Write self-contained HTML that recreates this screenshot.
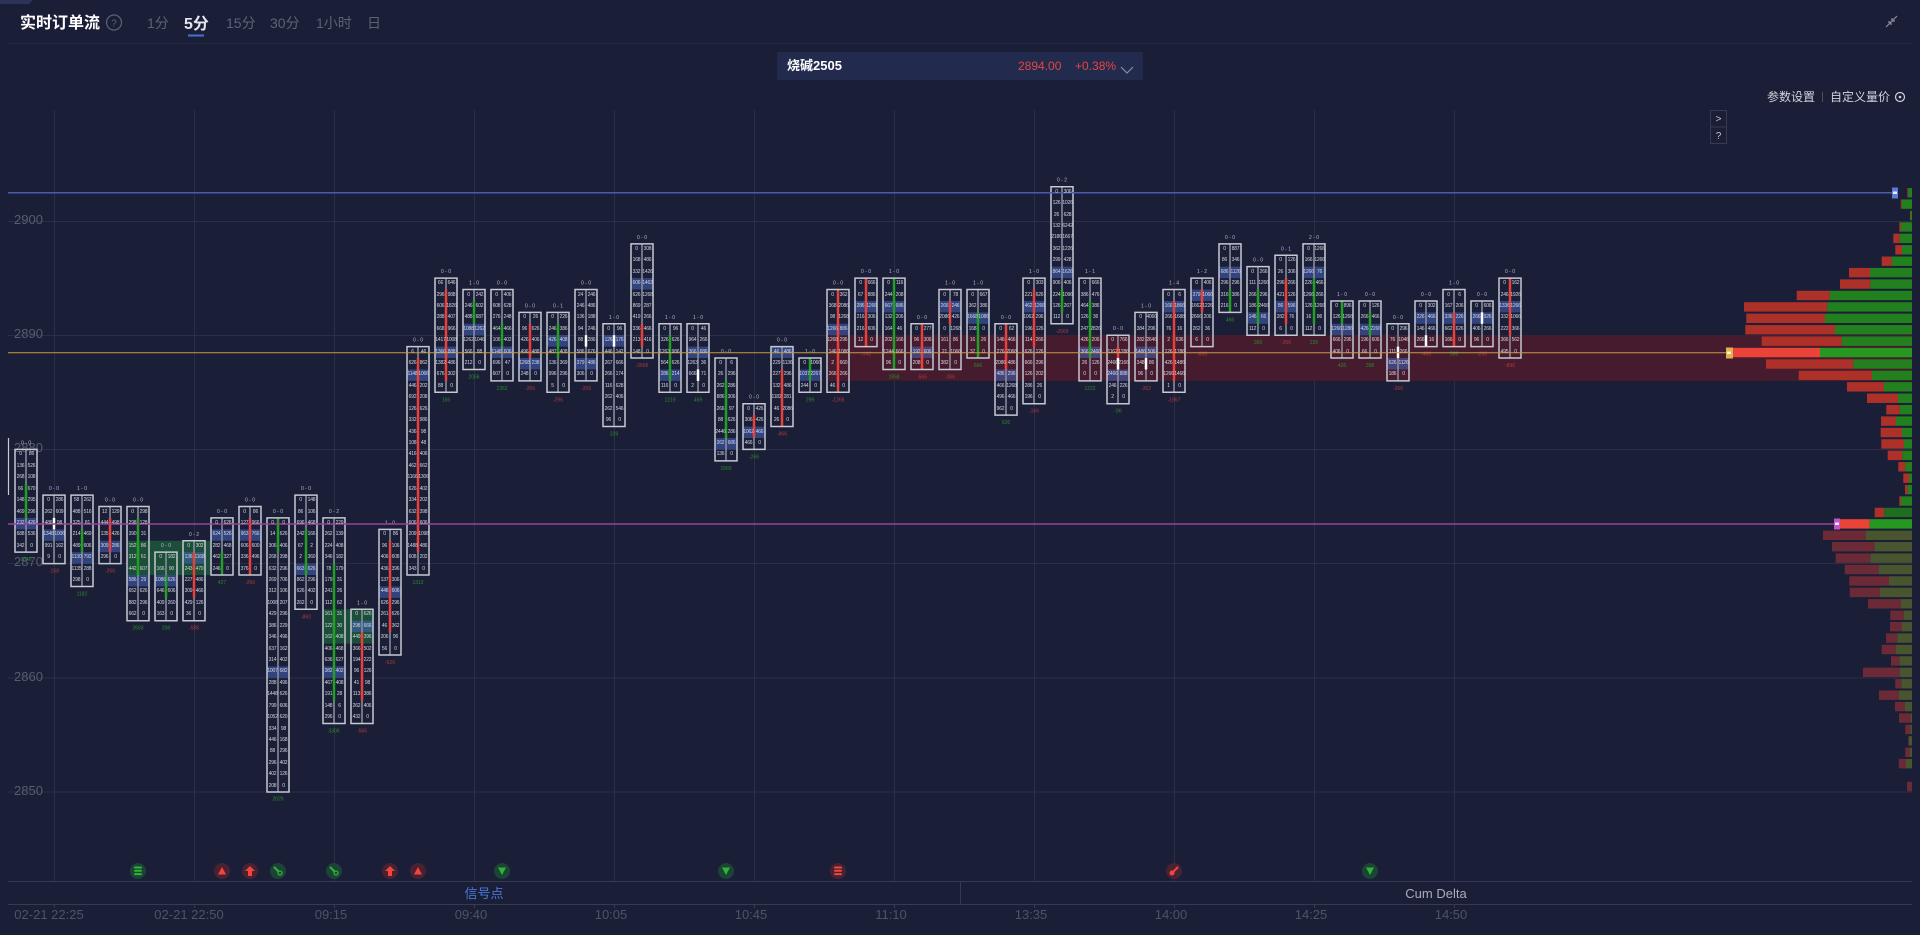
<!DOCTYPE html>
<html><head><meta charset="utf-8">
<style>
html,body{margin:0;padding:0;background:#1b1e37;}
#w{position:relative;width:1920px;height:935px;overflow:hidden;background:#1b1e37;font-family:"Liberation Sans","Noto Sans CJK SC",sans-serif;}
svg{position:absolute;left:0;top:0;}
.c{position:absolute;width:22px;display:flex;font-size:5px;line-height:11.42px;color:#d3d5de;white-space:nowrap;letter-spacing:-0.2px;}
.c i{font-style:normal;width:11px;text-align:center;overflow:visible;}
.p{fill:rgba(70,100,190,.55)}
.d{fill:#8d909f}
.r{fill:#e8413a}
.g{fill:#22a024}
.w{fill:#ffffff}
.x{fill:none;stroke:#c6c8d2;stroke-width:1.5px;vector-effect:non-scaling-stroke}
.ta{font-size:5px;fill:#b6b9c6;text-anchor:middle;font-family:"Liberation Sans",sans-serif}
.tr{font-size:5px;fill:#b23a3a;text-anchor:middle;font-family:"Liberation Sans",sans-serif}
.tg{font-size:5px;fill:#2a8c2a;text-anchor:middle;font-family:"Liberation Sans",sans-serif}
</style></head>
<body><div id="w">
<svg width="1920" height="935" viewBox="0 0 1920 935" xmlns="http://www.w3.org/2000/svg">
<!-- header -->
<polygon points="0,0 33,0 29,4 0,4" fill="#2b3356"/>
<text x="20" y="28" font-size="16" font-weight="bold" fill="#ffffff" font-family="Liberation Sans,Noto Sans CJK SC,sans-serif">实时订单流</text>
<circle cx="114" cy="22.5" r="7.5" fill="none" stroke="#5d6278" stroke-width="1.2"/>
<text x="114" y="26.5" font-size="10" fill="#5d6278" text-anchor="middle" font-family="Liberation Sans,sans-serif">?</text>
<g font-size="14" fill="#5d6278" font-family="Liberation Sans,Noto Sans CJK SC,sans-serif">
<text x="147" y="28">1分</text>
<text x="226" y="28">15分</text>
<text x="270" y="28">30分</text>
<text x="316" y="28">1小时</text>
<text x="367" y="28">日</text>
</g>
<text x="184" y="29" font-size="16" font-weight="bold" fill="#e6e7ee" font-family="Liberation Sans,Noto Sans CJK SC,sans-serif">5分</text>
<rect x="188" y="34.5" width="16" height="2" fill="#4a70d8"/>
<path d="M1886 27 L1891 22 M1888 22 L1891 22 L1891 25 M1897 16 L1892 21 M1892 18 L1892 21 L1895 21" stroke="#8a8ea0" stroke-width="1.2" fill="none"/>
<line x1="8" y1="43.5" x2="1912" y2="43.5" stroke="#252944" stroke-width="1"/>
<!-- instrument box -->
<rect x="777" y="52" width="366" height="28" rx="2" fill="#222b4d"/>
<text x="787" y="70" font-size="13" font-weight="bold" fill="#ffffff" font-family="Liberation Sans,Noto Sans CJK SC,sans-serif">烧碱2505</text>
<text x="1018" y="70" font-size="12" fill="#e64545" font-family="Liberation Sans,sans-serif">2894.00</text>
<text x="1075" y="70" font-size="12" fill="#e64545" font-family="Liberation Sans,sans-serif">+0.38%</text>
<polyline points="1121,67 1127,73 1133,67" fill="none" stroke="#8a8ea2" stroke-width="1.2"/>
<!-- settings -->
<g font-size="12" fill="#d2d4dc" font-family="Liberation Sans,Noto Sans CJK SC,sans-serif">
<text x="1767" y="101">参数设置</text>
<text x="1830" y="101">自定义量价</text>
</g>
<line x1="1822.5" y1="92" x2="1822.5" y2="102" stroke="#4a4e63"/>
<circle cx="1900" cy="97" r="4.5" fill="none" stroke="#cfd2da" stroke-width="1.2"/>
<circle cx="1900" cy="97" r="1.3" fill="#cfd2da"/>
<rect x="1710.5" y="110.5" width="16" height="33" fill="none" stroke="#363a52"/>
<line x1="1710.5" y1="127" x2="1726.5" y2="127" stroke="#363a52"/>
<text x="1718.5" y="122" font-size="10" fill="#c0c3cf" text-anchor="middle" font-family="Liberation Sans,sans-serif">&gt;</text>
<text x="1718.5" y="139" font-size="10" fill="#c0c3cf" text-anchor="middle" font-family="Liberation Sans,sans-serif">?</text>

<!-- grid -->
<g stroke="#2a2e47" stroke-width="1">
<line x1="54.5" y1="110" x2="54.5" y2="881"/><line x1="194.5" y1="110" x2="194.5" y2="881"/><line x1="334.5" y1="110" x2="334.5" y2="881"/><line x1="474.5" y1="110" x2="474.5" y2="881"/><line x1="614.5" y1="110" x2="614.5" y2="881"/><line x1="754.5" y1="110" x2="754.5" y2="881"/><line x1="894.5" y1="110" x2="894.5" y2="881"/><line x1="1034.5" y1="110" x2="1034.5" y2="881"/><line x1="1174.5" y1="110" x2="1174.5" y2="881"/><line x1="1314.5" y1="110" x2="1314.5" y2="881"/><line x1="1454.5" y1="110" x2="1454.5" y2="881"/>
<line x1="8" y1="221.5" x2="1912" y2="221.5"/><line x1="8" y1="335.5" x2="1912" y2="335.5"/><line x1="8" y1="449.5" x2="1912" y2="449.5"/><line x1="8" y1="563.5" x2="1912" y2="563.5"/><line x1="8" y1="678" x2="1912" y2="678"/><line x1="8" y1="792" x2="1912" y2="792"/>
</g>
<g font-size="13" fill="#575c72" font-family="Liberation Sans,sans-serif">
<text x="14" y="224">2900</text><text x="14" y="338">2890</text><text x="14" y="452">2880</text><text x="14" y="566">2870</text><text x="14" y="681">2860</text><text x="14" y="795">2850</text>
</g>
<line x1="8.5" y1="438" x2="8.5" y2="495" stroke="#c8cad4" stroke-width="1.2"/>

<!-- zones -->
<rect x="826.7" y="335.2" width="1085.3" height="45.7" fill="#461b2e"/>
<rect x="126.7" y="540.8" width="83.3" height="34.3" fill="#1c4f39"/>
<rect x="322.3" y="609.3" width="51.4" height="34.3" fill="#1c4f39"/>

<!-- candles (price space) -->
<g transform="matrix(1 0 0 -11.42 0 33339)">
<g transform="translate(15 0)"><rect class="p" x="0" y="2873" width="22" height="1"/><rect class="d" x="10.25" y="2871" width="1.5" height="9"/><rect class="g" x="9.75" y="2874" width="2.5" height="3"/><rect class="x" x="0" y="2871" width="22" height="9"/></g>
<g transform="translate(43 0)"><rect class="p" x="0" y="2872" width="22" height="1"/><rect class="d" x="10.25" y="2870" width="1.5" height="6"/><rect class="w" x="9.75" y="2873" width="2.5" height="1"/><rect class="x" x="0" y="2870" width="22" height="6"/></g>
<g transform="translate(71 0)"><rect class="p" x="0" y="2870" width="22" height="1"/><rect class="d" x="10.25" y="2868" width="1.5" height="8"/><rect class="g" x="9.75" y="2871" width="2.5" height="2"/><rect class="x" x="0" y="2868" width="22" height="8"/></g>
<g transform="translate(99 0)"><rect class="p" x="0" y="2871" width="22" height="1"/><rect class="d" x="10.25" y="2870" width="1.5" height="5"/><rect class="r" x="9.75" y="2871" width="2.5" height="3"/><rect class="x" x="0" y="2870" width="22" height="5"/></g>
<g transform="translate(127 0)"><rect class="p" x="0" y="2868" width="22" height="1"/><rect class="d" x="10.25" y="2865" width="1.5" height="10"/><rect class="g" x="9.75" y="2869" width="2.5" height="5"/><rect class="x" x="0" y="2865" width="22" height="10"/></g>
<g transform="translate(155 0)"><rect class="p" x="0" y="2868" width="22" height="1"/><rect class="d" x="10.25" y="2865" width="1.5" height="6"/><rect class="g" x="9.75" y="2867" width="2.5" height="2"/><rect class="x" x="0" y="2865" width="22" height="6"/></g>
<g transform="translate(183 0)"><rect class="p" x="0" y="2870" width="22" height="1"/><rect class="d" x="10.25" y="2865" width="1.5" height="7"/><rect class="r" x="9.75" y="2867" width="2.5" height="4"/><rect class="x" x="0" y="2865" width="22" height="7"/></g>
<g transform="translate(211 0)"><rect class="p" x="0" y="2872" width="22" height="1"/><rect class="d" x="10.25" y="2869" width="1.5" height="5"/><rect class="g" x="9.75" y="2869" width="2.5" height="2"/><rect class="x" x="0" y="2869" width="22" height="5"/></g>
<g transform="translate(239 0)"><rect class="p" x="0" y="2872" width="22" height="1"/><rect class="d" x="10.25" y="2869" width="1.5" height="6"/><rect class="r" x="9.75" y="2869" width="2.5" height="5"/><rect class="x" x="0" y="2869" width="22" height="6"/></g>
<g transform="translate(267 0)"><rect class="p" x="0" y="2860" width="22" height="1"/><rect class="d" x="10.25" y="2850" width="1.5" height="24"/><rect class="g" x="9.75" y="2871" width="2.5" height="3"/><rect class="x" x="0" y="2850" width="22" height="24"/></g>
<g transform="translate(295 0)"><rect class="p" x="0" y="2869" width="22" height="1"/><rect class="d" x="10.25" y="2866" width="1.5" height="10"/><rect class="g" x="9.75" y="2869" width="2.5" height="4"/><rect class="x" x="0" y="2866" width="22" height="10"/></g>
<g transform="translate(323 0)"><rect class="p" x="0" y="2860" width="22" height="1"/><rect class="d" x="10.25" y="2856" width="1.5" height="18"/><rect class="g" x="9.75" y="2858" width="2.5" height="12"/><rect class="x" x="0" y="2856" width="22" height="18"/></g>
<g transform="translate(351 0)"><rect class="p" x="0" y="2864" width="22" height="1"/><rect class="d" x="10.25" y="2856" width="1.5" height="10"/><rect class="r" x="9.75" y="2858" width="2.5" height="6"/><rect class="x" x="0" y="2856" width="22" height="10"/></g>
<g transform="translate(379 0)"><rect class="p" x="0" y="2867" width="22" height="1"/><rect class="d" x="10.25" y="2862" width="1.5" height="11"/><rect class="r" x="9.75" y="2864" width="2.5" height="8"/><rect class="x" x="0" y="2862" width="22" height="11"/></g>
<g transform="translate(407 0)"><rect class="p" x="0" y="2886" width="22" height="1"/><rect class="d" x="10.25" y="2869" width="1.5" height="20"/><rect class="r" x="9.75" y="2871" width="2.5" height="17"/><rect class="x" x="0" y="2869" width="22" height="20"/></g>
<g transform="translate(435 0)"><rect class="p" x="0" y="2888" width="22" height="1"/><rect class="d" x="10.25" y="2885" width="1.5" height="10"/><rect class="r" x="9.75" y="2886" width="2.5" height="8"/><rect class="x" x="0" y="2885" width="22" height="10"/></g>
<g transform="translate(463 0)"><rect class="p" x="0" y="2890" width="22" height="1"/><rect class="d" x="10.25" y="2887" width="1.5" height="7"/><rect class="g" x="9.75" y="2891" width="2.5" height="2"/><rect class="x" x="0" y="2887" width="22" height="7"/></g>
<g transform="translate(491 0)"><rect class="p" x="0" y="2888" width="22" height="1"/><rect class="d" x="10.25" y="2886" width="1.5" height="8"/><rect class="g" x="9.75" y="2889" width="2.5" height="2"/><rect class="x" x="0" y="2886" width="22" height="8"/></g>
<g transform="translate(519 0)"><rect class="p" x="0" y="2887" width="22" height="1"/><rect class="d" x="10.25" y="2886" width="1.5" height="6"/><rect class="r" x="9.75" y="2888" width="2.5" height="3"/><rect class="x" x="0" y="2886" width="22" height="6"/></g>
<g transform="translate(547 0)"><rect class="p" x="0" y="2889" width="22" height="1"/><rect class="d" x="10.25" y="2885" width="1.5" height="7"/><rect class="g" x="9.75" y="2888" width="2.5" height="3"/><rect class="x" x="0" y="2885" width="22" height="7"/></g>
<g transform="translate(575 0)"><rect class="p" x="0" y="2887" width="22" height="1"/><rect class="d" x="10.25" y="2886" width="1.5" height="8"/><rect class="w" x="9.75" y="2889" width="2.5" height="1"/><rect class="x" x="0" y="2886" width="22" height="8"/></g>
<g transform="translate(603 0)"><rect class="p" x="0" y="2889" width="22" height="1"/><rect class="d" x="10.25" y="2882" width="1.5" height="9"/><rect class="w" x="9.75" y="2889" width="2.5" height="1"/><rect class="x" x="0" y="2882" width="22" height="9"/></g>
<g transform="translate(631 0)"><rect class="p" x="0" y="2894" width="22" height="1"/><rect class="d" x="10.25" y="2888" width="1.5" height="10"/><rect class="r" x="9.75" y="2889" width="2.5" height="2"/><rect class="x" x="0" y="2888" width="22" height="10"/></g>
<g transform="translate(659 0)"><rect class="p" x="0" y="2886" width="22" height="1"/><rect class="d" x="10.25" y="2885" width="1.5" height="6"/><rect class="g" x="9.75" y="2886" width="2.5" height="4"/><rect class="x" x="0" y="2885" width="22" height="6"/></g>
<g transform="translate(687 0)"><rect class="p" x="0" y="2888" width="22" height="1"/><rect class="d" x="10.25" y="2885" width="1.5" height="6"/><rect class="w" x="9.75" y="2886" width="2.5" height="1"/><rect class="x" x="0" y="2885" width="22" height="6"/></g>
<g transform="translate(715 0)"><rect class="p" x="0" y="2880" width="22" height="1"/><rect class="d" x="10.25" y="2879" width="1.5" height="9"/><rect class="g" x="9.75" y="2881" width="2.5" height="5"/><rect class="x" x="0" y="2879" width="22" height="9"/></g>
<g transform="translate(743 0)"><rect class="p" x="0" y="2881" width="22" height="1"/><rect class="d" x="10.25" y="2880" width="1.5" height="4"/><rect class="r" x="9.75" y="2881" width="2.5" height="2"/><rect class="x" x="0" y="2880" width="22" height="4"/></g>
<g transform="translate(771 0)"><rect class="p" x="0" y="2888" width="22" height="1"/><rect class="d" x="10.25" y="2882" width="1.5" height="7"/><rect class="r" x="9.75" y="2882" width="2.5" height="5"/><rect class="x" x="0" y="2882" width="22" height="7"/></g>
<g transform="translate(799 0)"><rect class="p" x="0" y="2886" width="22" height="1"/><rect class="d" x="10.25" y="2885" width="1.5" height="3"/><rect class="g" x="9.75" y="2886" width="2.5" height="2"/><rect class="x" x="0" y="2885" width="22" height="3"/></g>
<g transform="translate(827 0)"><rect class="p" x="0" y="2890" width="22" height="1"/><rect class="d" x="10.25" y="2885" width="1.5" height="9"/><rect class="r" x="9.75" y="2885" width="2.5" height="9"/><rect class="x" x="0" y="2885" width="22" height="9"/></g>
<g transform="translate(855 0)"><rect class="p" x="0" y="2892" width="22" height="1"/><rect class="d" x="10.25" y="2889" width="1.5" height="6"/><rect class="r" x="9.75" y="2889" width="2.5" height="6"/><rect class="x" x="0" y="2889" width="22" height="6"/></g>
<g transform="translate(883 0)"><rect class="p" x="0" y="2892" width="22" height="1"/><rect class="d" x="10.25" y="2887" width="1.5" height="8"/><rect class="g" x="9.75" y="2887" width="2.5" height="8"/><rect class="x" x="0" y="2887" width="22" height="8"/></g>
<g transform="translate(911 0)"><rect class="p" x="0" y="2888" width="22" height="1"/><rect class="d" x="10.25" y="2887" width="1.5" height="4"/><rect class="r" x="9.75" y="2887" width="2.5" height="4"/><rect class="x" x="0" y="2887" width="22" height="4"/></g>
<g transform="translate(939 0)"><rect class="p" x="0" y="2892" width="22" height="1"/><rect class="d" x="10.25" y="2887" width="1.5" height="7"/><rect class="r" x="9.75" y="2891" width="2.5" height="2"/><rect class="x" x="0" y="2887" width="22" height="7"/></g>
<g transform="translate(967 0)"><rect class="p" x="0" y="2891" width="22" height="1"/><rect class="d" x="10.25" y="2888" width="1.5" height="6"/><rect class="g" x="9.75" y="2888" width="2.5" height="4"/><rect class="x" x="0" y="2888" width="22" height="6"/></g>
<g transform="translate(995 0)"><rect class="p" x="0" y="2886" width="22" height="1"/><rect class="d" x="10.25" y="2883" width="1.5" height="8"/><rect class="r" x="9.75" y="2887" width="2.5" height="4"/><rect class="x" x="0" y="2883" width="22" height="8"/></g>
<g transform="translate(1023 0)"><rect class="p" x="0" y="2892" width="22" height="1"/><rect class="d" x="10.25" y="2884" width="1.5" height="11"/><rect class="r" x="9.75" y="2889" width="2.5" height="5"/><rect class="x" x="0" y="2884" width="22" height="11"/></g>
<g transform="translate(1051 0)"><rect class="p" x="0" y="2895" width="22" height="1"/><rect class="d" x="10.25" y="2891" width="1.5" height="12"/><rect class="g" x="9.75" y="2892" width="2.5" height="2"/><rect class="x" x="0" y="2891" width="22" height="12"/></g>
<g transform="translate(1079 0)"><rect class="p" x="0" y="2888" width="22" height="1"/><rect class="d" x="10.25" y="2886" width="1.5" height="9"/><rect class="g" x="9.75" y="2888" width="2.5" height="5"/><rect class="x" x="0" y="2886" width="22" height="9"/></g>
<g transform="translate(1107 0)"><rect class="p" x="0" y="2886" width="22" height="1"/><rect class="d" x="10.25" y="2884" width="1.5" height="6"/><rect class="r" x="9.75" y="2888" width="2.5" height="1"/><rect class="w" x="9.75" y="2887" width="2.5" height="1"/><rect class="x" x="0" y="2884" width="22" height="6"/></g>
<g transform="translate(1135 0)"><rect class="p" x="0" y="2888" width="22" height="1"/><rect class="d" x="10.25" y="2886" width="1.5" height="6"/><rect class="w" x="9.75" y="2887" width="2.5" height="1"/><rect class="x" x="0" y="2886" width="22" height="6"/></g>
<g transform="translate(1163 0)"><rect class="p" x="0" y="2892" width="22" height="1"/><rect class="d" x="10.25" y="2885" width="1.5" height="9"/><rect class="r" x="9.75" y="2886" width="2.5" height="7"/><rect class="x" x="0" y="2885" width="22" height="9"/></g>
<g transform="translate(1191 0)"><rect class="p" x="0" y="2893" width="22" height="1"/><rect class="d" x="10.25" y="2889" width="1.5" height="6"/><rect class="r" x="9.75" y="2892" width="2.5" height="2"/><rect class="x" x="0" y="2889" width="22" height="6"/></g>
<g transform="translate(1219 0)"><rect class="p" x="0" y="2895" width="22" height="1"/><rect class="d" x="10.25" y="2892" width="1.5" height="6"/><rect class="g" x="9.75" y="2892" width="2.5" height="2"/><rect class="x" x="0" y="2892" width="22" height="6"/></g>
<g transform="translate(1247 0)"><rect class="p" x="0" y="2891" width="22" height="1"/><rect class="d" x="10.25" y="2890" width="1.5" height="6"/><rect class="g" x="9.75" y="2891" width="2.5" height="3"/><rect class="x" x="0" y="2890" width="22" height="6"/></g>
<g transform="translate(1275 0)"><rect class="p" x="0" y="2892" width="22" height="1"/><rect class="d" x="10.25" y="2890" width="1.5" height="7"/><rect class="r" x="9.75" y="2891" width="2.5" height="4"/><rect class="x" x="0" y="2890" width="22" height="7"/></g>
<g transform="translate(1303 0)"><rect class="p" x="0" y="2895" width="22" height="1"/><rect class="d" x="10.25" y="2890" width="1.5" height="8"/><rect class="g" x="9.75" y="2891" width="2.5" height="4"/><rect class="x" x="0" y="2890" width="22" height="8"/></g>
<g transform="translate(1331 0)"><rect class="p" x="0" y="2890" width="22" height="1"/><rect class="d" x="10.25" y="2888" width="1.5" height="5"/><rect class="g" x="9.75" y="2891" width="2.5" height="2"/><rect class="x" x="0" y="2888" width="22" height="5"/></g>
<g transform="translate(1359 0)"><rect class="p" x="0" y="2890" width="22" height="1"/><rect class="d" x="10.25" y="2888" width="1.5" height="5"/><rect class="g" x="9.75" y="2890" width="2.5" height="2"/><rect class="x" x="0" y="2888" width="22" height="5"/></g>
<g transform="translate(1387 0)"><rect class="p" x="0" y="2887" width="22" height="1"/><rect class="d" x="10.25" y="2886" width="1.5" height="5"/><rect class="w" x="9.75" y="2888" width="2.5" height="1"/><rect class="x" x="0" y="2886" width="22" height="5"/></g>
<g transform="translate(1415 0)"><rect class="p" x="0" y="2891" width="22" height="1"/><rect class="d" x="10.25" y="2889" width="1.5" height="4"/><rect class="w" x="9.75" y="2889" width="2.5" height="1"/><rect class="x" x="0" y="2889" width="22" height="4"/></g>
<g transform="translate(1443 0)"><rect class="p" x="0" y="2891" width="22" height="1"/><rect class="d" x="10.25" y="2889" width="1.5" height="5"/><rect class="r" x="9.75" y="2889" width="2.5" height="3"/><rect class="x" x="0" y="2889" width="22" height="5"/></g>
<g transform="translate(1471 0)"><rect class="p" x="0" y="2891" width="22" height="1"/><rect class="d" x="10.25" y="2889" width="1.5" height="4"/><rect class="w" x="9.75" y="2891" width="2.5" height="1"/><rect class="x" x="0" y="2889" width="22" height="4"/></g>
<g transform="translate(1499 0)"><rect class="p" x="0" y="2892" width="22" height="1"/><rect class="d" x="10.25" y="2888" width="1.5" height="7"/><rect class="r" x="9.75" y="2890" width="2.5" height="5"/><rect class="x" x="0" y="2888" width="22" height="7"/></g>
</g>

<!-- candle labels above -->
<g class="ta">
<text class="ta" x="26" y="444.4">0 - 0</text><text class="ta" x="54" y="490.1">0 - 0</text><text class="ta" x="82" y="490.1">1 - 0</text><text class="ta" x="110" y="501.5">0 - 0</text><text class="ta" x="138" y="501.5">0 - 0</text><text class="ta" x="166" y="547.2">0 - 0</text><text class="ta" x="194" y="535.8">0 - 2</text><text class="ta" x="222" y="512.9">0 - 0</text><text class="ta" x="250" y="501.5">0 - 0</text><text class="ta" x="278" y="512.9">0 - 0</text><text class="ta" x="306" y="490.1">0 - 0</text><text class="ta" x="334" y="512.9">0 - 2</text><text class="ta" x="362" y="604.3">1 - 0</text><text class="ta" x="390" y="524.3">1 - 0</text><text class="ta" x="418" y="341.6">0 - 0</text><text class="ta" x="446" y="273.1">0 - 0</text><text class="ta" x="474" y="284.5">1 - 0</text><text class="ta" x="502" y="284.5">0 - 0</text><text class="ta" x="530" y="307.4">0 - 0</text><text class="ta" x="558" y="307.4">0 - 1</text><text class="ta" x="586" y="284.5">0 - 0</text><text class="ta" x="614" y="318.8">1 - 0</text><text class="ta" x="642" y="238.8">0 - 0</text><text class="ta" x="670" y="318.8">1 - 0</text><text class="ta" x="698" y="318.8">1 - 0</text><text class="ta" x="726" y="353.0">0 - 0</text><text class="ta" x="754" y="398.7">0 - 0</text><text class="ta" x="782" y="341.6">0 - 0</text><text class="ta" x="810" y="353.0">1 - 0</text><text class="ta" x="838" y="284.5">0 - 0</text><text class="ta" x="866" y="273.1">0 - 0</text><text class="ta" x="894" y="273.1">1 - 0</text><text class="ta" x="922" y="318.8">0 - 0</text><text class="ta" x="950" y="284.5">1 - 0</text><text class="ta" x="978" y="284.5">1 - 0</text><text class="ta" x="1006" y="318.8">0 - 0</text><text class="ta" x="1034" y="273.1">1 - 0</text><text class="ta" x="1062" y="181.7">0 - 2</text><text class="ta" x="1090" y="273.1">1 - 1</text><text class="ta" x="1118" y="330.2">0 - 0</text><text class="ta" x="1146" y="307.4">1 - 0</text><text class="ta" x="1174" y="284.5">1 - 4</text><text class="ta" x="1202" y="273.1">1 - 2</text><text class="ta" x="1230" y="238.8">0 - 0</text><text class="ta" x="1258" y="261.7">0 - 0</text><text class="ta" x="1286" y="250.3">0 - 1</text><text class="ta" x="1314" y="238.8">2 - 0</text><text class="ta" x="1342" y="295.9">1 - 0</text><text class="ta" x="1370" y="295.9">0 - 0</text><text class="ta" x="1398" y="318.8">0 - 0</text><text class="ta" x="1426" y="295.9">0 - 0</text><text class="ta" x="1454" y="284.5">1 - 0</text><text class="ta" x="1482" y="295.9">0 - 0</text><text class="ta" x="1510" y="273.1">0 - 0</text>
</g>
<!-- candle labels below -->
<text class="tg" x="26" y="561.2">1846</text><text class="tr" x="54" y="572.6">-158</text><text class="tg" x="82" y="595.4">1182</text><text class="tr" x="110" y="572.6">-266</text><text class="tg" x="138" y="629.7">2693</text><text class="tg" x="166" y="629.7">208</text><text class="tr" x="194" y="629.7">-588</text><text class="tg" x="222" y="584.0">427</text><text class="tr" x="250" y="584.0">-266</text><text class="tg" x="278" y="800.5">2626</text><text class="tr" x="306" y="618.3">-860</text><text class="tg" x="334" y="732.5">3306</text><text class="tr" x="362" y="732.5">-566</text><text class="tr" x="390" y="664.0">-626</text><text class="tg" x="418" y="584.0">1312</text><text class="tg" x="446" y="401.3">166</text><text class="tg" x="474" y="378.5">2066</text><text class="tg" x="502" y="389.9">1362</text><text class="tr" x="530" y="389.9">-266</text><text class="tr" x="558" y="401.3">-296</text><text class="tr" x="586" y="389.9">-209</text><text class="tg" x="614" y="435.6">329</text><text class="tr" x="642" y="367.0">-2666</text><text class="tg" x="670" y="401.3">1219</text><text class="tg" x="698" y="401.3">469</text><text class="tg" x="726" y="469.8">1560</text><text class="tg" x="754" y="458.4">-266</text><text class="tr" x="782" y="435.6">-866</text><text class="tg" x="810" y="401.3">299</text><text class="tr" x="838" y="401.3">-1266</text><text class="tr" x="866" y="355.6">-142</text><text class="tg" x="894" y="378.5">1858</text><text class="tr" x="922" y="378.5">-565</text><text class="tr" x="950" y="378.5">-266</text><text class="tg" x="978" y="367.0">666</text><text class="tg" x="1006" y="424.1">626</text><text class="tr" x="1034" y="412.7">-166</text><text class="tr" x="1062" y="332.8">-2669</text><text class="tg" x="1090" y="389.9">1222</text><text class="tg" x="1118" y="412.7">-96</text><text class="tr" x="1146" y="389.9">-262</text><text class="tr" x="1174" y="401.3">-1867</text><text class="tr" x="1202" y="355.6">-868</text><text class="tg" x="1230" y="321.4">466</text><text class="tg" x="1258" y="344.2">366</text><text class="tr" x="1286" y="344.2">-266</text><text class="tg" x="1314" y="344.2">226</text><text class="tg" x="1342" y="367.0">426</text><text class="tg" x="1370" y="367.0">398</text><text class="tr" x="1398" y="389.9">-266</text><text class="tr" x="1426" y="355.6">-466</text><text class="tg" x="1454" y="355.6">566</text><text class="tr" x="1482" y="355.6">-266</text><text class="tr" x="1510" y="367.0">-896</text>

<!-- profile bars -->
<g>
<rect x="1907.3" y="188" width="1" height="9.4" fill="#ae3129"/><rect x="1908.3" y="188" width="3.7" height="9.4" fill="#23801f"/>
<rect x="1900.7" y="199.42" width="1" height="9.4" fill="#ae3129"/><rect x="1901.7" y="199.42" width="10.3" height="9.4" fill="#23801f"/>
<rect x="1910" y="210.84" width="0.5" height="9.4" fill="#ae3129"/><rect x="1910.5" y="210.84" width="1.5" height="9.4" fill="#23801f"/>
<rect x="1899.3" y="222.26" width="1.7" height="9.4" fill="#ae3129"/><rect x="1901" y="222.26" width="11" height="9.4" fill="#23801f"/>
<rect x="1893.3" y="233.68" width="6.4" height="9.4" fill="#ae3129"/><rect x="1899.7" y="233.68" width="12.3" height="9.4" fill="#23801f"/>
<rect x="1895.3" y="245.1" width="6.7" height="9.4" fill="#ae3129"/><rect x="1902" y="245.1" width="10" height="9.4" fill="#23801f"/>
<rect x="1881.7" y="256.52" width="10" height="9.4" fill="#ae3129"/><rect x="1891.7" y="256.52" width="20.3" height="9.4" fill="#23801f"/>
<rect x="1849" y="267.94" width="21" height="9.4" fill="#ae3129"/><rect x="1870" y="267.94" width="42" height="9.4" fill="#23801f"/>
<rect x="1840" y="279.36" width="30.3" height="9.4" fill="#ae3129"/><rect x="1870.3" y="279.36" width="41.7" height="9.4" fill="#23801f"/>
<rect x="1796.7" y="290.78" width="33" height="9.4" fill="#ae3129"/><rect x="1829.7" y="290.78" width="82.3" height="9.4" fill="#23801f"/>
<rect x="1744" y="302.2" width="83.3" height="9.4" fill="#ae3129"/><rect x="1827.3" y="302.2" width="84.7" height="9.4" fill="#23801f"/>
<rect x="1746.3" y="313.62" width="78.7" height="9.4" fill="#ae3129"/><rect x="1825" y="313.62" width="87" height="9.4" fill="#23801f"/>
<rect x="1745.3" y="325.04" width="89.7" height="9.4" fill="#ae3129"/><rect x="1835" y="325.04" width="77" height="9.4" fill="#23801f"/>
<rect x="1761.7" y="336.46" width="80" height="9.4" fill="#ae3129"/><rect x="1841.7" y="336.46" width="70.3" height="9.4" fill="#23801f"/>
<rect x="1732" y="347.88" width="88" height="9.4" fill="#ea4438"/><rect x="1820" y="347.88" width="92" height="9.4" fill="#26981f"/>
<rect x="1766" y="359.3" width="87.3" height="9.4" fill="#ae3129"/><rect x="1853.3" y="359.3" width="58.7" height="9.4" fill="#23801f"/>
<rect x="1798.7" y="370.72" width="73.3" height="9.4" fill="#ae3129"/><rect x="1872" y="370.72" width="40" height="9.4" fill="#23801f"/>
<rect x="1847" y="382.14" width="37" height="9.4" fill="#ae3129"/><rect x="1884" y="382.14" width="28" height="9.4" fill="#23801f"/>
<rect x="1867" y="393.56" width="31" height="9.4" fill="#ae3129"/><rect x="1898" y="393.56" width="14" height="9.4" fill="#23801f"/>
<rect x="1886.3" y="404.98" width="13.4" height="9.4" fill="#ae3129"/><rect x="1899.7" y="404.98" width="12.3" height="9.4" fill="#23801f"/>
<rect x="1881" y="416.4" width="15" height="9.4" fill="#ae3129"/><rect x="1896" y="416.4" width="16" height="9.4" fill="#23801f"/>
<rect x="1880.7" y="427.82" width="21.3" height="9.4" fill="#ae3129"/><rect x="1902" y="427.82" width="10" height="9.4" fill="#23801f"/>
<rect x="1881.3" y="439.24" width="22.7" height="9.4" fill="#ae3129"/><rect x="1904" y="439.24" width="8" height="9.4" fill="#23801f"/>
<rect x="1887.7" y="450.66" width="14.6" height="9.4" fill="#ae3129"/><rect x="1902.3" y="450.66" width="9.7" height="9.4" fill="#23801f"/>
<rect x="1898.3" y="462.08" width="7" height="9.4" fill="#ae3129"/><rect x="1905.3" y="462.08" width="6.7" height="9.4" fill="#23801f"/>
<rect x="1903.3" y="473.5" width="5.7" height="9.4" fill="#ae3129"/><rect x="1909" y="473.5" width="3" height="9.4" fill="#23801f"/>
<rect x="1905" y="484.92" width="2.7" height="9.4" fill="#ae3129"/><rect x="1907.7" y="484.92" width="4.3" height="9.4" fill="#23801f"/>
<rect x="1899.3" y="496.34" width="1.7" height="9.4" fill="#ae3129"/><rect x="1901" y="496.34" width="11" height="9.4" fill="#23801f"/>
<rect x="1874.7" y="507.76" width="9.6" height="9.4" fill="#ae3129"/><rect x="1884.3" y="507.76" width="27.7" height="9.4" fill="#1f6d1f"/>
<rect x="1839.3" y="519.18" width="30.4" height="9.4" fill="#ea4438"/><rect x="1869.7" y="519.18" width="42.3" height="9.4" fill="#26981f"/>
<rect x="1823" y="530.6" width="42.7" height="9.4" fill="#6b2a36"/><rect x="1865.7" y="530.6" width="46.3" height="9.4" fill="#48552e"/>
<rect x="1832" y="542.02" width="42.3" height="9.4" fill="#6b2a36"/><rect x="1874.3" y="542.02" width="37.7" height="9.4" fill="#48552e"/>
<rect x="1835.7" y="553.44" width="34.6" height="9.4" fill="#6b2a36"/><rect x="1870.3" y="553.44" width="41.7" height="9.4" fill="#48552e"/>
<rect x="1844.7" y="564.86" width="34" height="9.4" fill="#6b2a36"/><rect x="1878.7" y="564.86" width="33.3" height="9.4" fill="#48552e"/>
<rect x="1849.3" y="576.28" width="39.7" height="9.4" fill="#6b2a36"/><rect x="1889" y="576.28" width="23" height="9.4" fill="#48552e"/>
<rect x="1849.7" y="587.7" width="30.3" height="9.4" fill="#6b2a36"/><rect x="1880" y="587.7" width="32" height="9.4" fill="#48552e"/>
<rect x="1868" y="599.12" width="33" height="9.4" fill="#6b2a36"/><rect x="1901" y="599.12" width="11" height="9.4" fill="#48552e"/>
<rect x="1890.3" y="610.54" width="13.4" height="9.4" fill="#6b2a36"/><rect x="1903.7" y="610.54" width="8.3" height="9.4" fill="#48552e"/>
<rect x="1890" y="621.96" width="12" height="9.4" fill="#6b2a36"/><rect x="1902" y="621.96" width="10" height="9.4" fill="#48552e"/>
<rect x="1886" y="633.38" width="11.3" height="9.4" fill="#6b2a36"/><rect x="1897.3" y="633.38" width="14.7" height="9.4" fill="#48552e"/>
<rect x="1881.7" y="644.8" width="14.3" height="9.4" fill="#6b2a36"/><rect x="1896" y="644.8" width="16" height="9.4" fill="#48552e"/>
<rect x="1891" y="656.22" width="8.3" height="9.4" fill="#6b2a36"/><rect x="1899.3" y="656.22" width="12.7" height="9.4" fill="#48552e"/>
<rect x="1863" y="667.64" width="36.7" height="9.4" fill="#6b2a36"/><rect x="1899.7" y="667.64" width="12.3" height="9.4" fill="#48552e"/>
<rect x="1895.3" y="679.06" width="6" height="9.4" fill="#6b2a36"/><rect x="1901.3" y="679.06" width="10.7" height="9.4" fill="#48552e"/>
<rect x="1879" y="690.48" width="20" height="9.4" fill="#6b2a36"/><rect x="1899" y="690.48" width="13" height="9.4" fill="#48552e"/>
<rect x="1895" y="701.9" width="10" height="9.4" fill="#6b2a36"/><rect x="1905" y="701.9" width="7" height="9.4" fill="#48552e"/>
<rect x="1899" y="713.32" width="12" height="9.4" fill="#6b2a36"/><rect x="1911" y="713.32" width="1" height="9.4" fill="#48552e"/>
<rect x="1905.3" y="724.74" width="5" height="9.4" fill="#6b2a36"/><rect x="1910.3" y="724.74" width="1.7" height="9.4" fill="#48552e"/>
<rect x="1908.3" y="736.16" width="0.7" height="9.4" fill="#6b2a36"/><rect x="1909" y="736.16" width="3" height="9.4" fill="#48552e"/>
<rect x="1905.3" y="747.58" width="4.7" height="9.4" fill="#6b2a36"/><rect x="1910" y="747.58" width="2" height="9.4" fill="#48552e"/>
<rect x="1898.7" y="759" width="7.3" height="9.4" fill="#6b2a36"/><rect x="1906" y="759" width="6" height="9.4" fill="#48552e"/>
<rect x="1907" y="781.84" width="5" height="9.4" fill="#6b2a36"/>
</g>

<!-- key horizontal lines -->
<line x1="8" y1="192.7" x2="1892" y2="192.7" stroke="#4a5cb0" stroke-width="1.5"/>
<rect x="1892" y="187.5" width="6" height="11" fill="#5a7ad6"/><rect x="1893" y="191.5" width="4" height="2.5" fill="#e8ecff"/>
<line x1="8" y1="352.7" x2="1726" y2="352.7" stroke="#c99a3d" stroke-width="1"/>
<rect x="1726" y="347.5" width="7" height="11" fill="#e1b04f"/><rect x="1727" y="351.5" width="4" height="2.5" fill="#fff3d0"/>
<line x1="8" y1="524" x2="1834" y2="524" stroke="#9b3f9e" stroke-width="1.5"/>
<rect x="1834" y="518.5" width="6" height="11" fill="#c255c6"/><rect x="1835" y="522.5" width="4" height="2.5" fill="#ffe6ff"/>

<!-- signal icons -->
<g>
<circle cx="138" cy="871" r="8" fill="#1c4337"/><rect x="134" y="866.5" width="8" height="2" rx="1" fill="#2fb52f"/><rect x="134" y="869.8" width="8" height="2" rx="1" fill="#2fb52f"/><rect x="134" y="873.1" width="8" height="2" rx="1" fill="#2fb52f"/>
<circle cx="222" cy="871" r="8" fill="#4a2133"/><polygon points="218,874.5 226,874.5 222,867" fill="#f0473c"/>
<circle cx="250" cy="871" r="8" fill="#4a2133"/><polygon points="250,866 255,871 252,871 252,876 248,876 248,871 245,871" fill="#f0473c"/>
<circle cx="278" cy="871" r="8" fill="#1c4337"/><line x1="274" y1="867" x2="279" y2="872" stroke="#2fb52f" stroke-width="2"/><circle cx="280" cy="873" r="2" fill="none" stroke="#2fb52f" stroke-width="1.3"/>
<circle cx="334" cy="871" r="8" fill="#1c4337"/><line x1="330" y1="867" x2="335" y2="872" stroke="#2fb52f" stroke-width="2"/><circle cx="336" cy="873" r="2" fill="none" stroke="#2fb52f" stroke-width="1.3"/>
<circle cx="390" cy="871" r="8" fill="#4a2133"/><polygon points="390,866 395,871 392,871 392,876 388,876 388,871 385,871" fill="#f0473c"/>
<circle cx="418" cy="871" r="8" fill="#4a2133"/><polygon points="414,874.5 422,874.5 418,867" fill="#f0473c"/>
<circle cx="502" cy="871" r="8" fill="#1c4337"/><polygon points="498,867.5 506,867.5 502,875" fill="#2fb52f"/>
<circle cx="726" cy="871" r="8" fill="#1c4337"/><polygon points="722,867.5 730,867.5 726,875" fill="#2fb52f"/>
<circle cx="838" cy="871" r="8" fill="#4a2133"/><rect x="834" y="866.5" width="8" height="2" rx="1" fill="#f0473c"/><rect x="834" y="869.8" width="8" height="2" rx="1" fill="#f0473c"/><rect x="834" y="873.1" width="8" height="2" rx="1" fill="#f0473c"/>
<circle cx="1174" cy="871" r="8" fill="#4a2133"/><circle cx="1172" cy="873" r="2.5" fill="#f0473c"/><line x1="1173" y1="872" x2="1178" y2="867" stroke="#f0473c" stroke-width="2"/>
<circle cx="1370" cy="871" r="8" fill="#1c4337"/><polygon points="1366,867.5 1374,867.5 1370,875" fill="#2fb52f"/>
</g>

<!-- bottom tabs -->
<line x1="8" y1="881.5" x2="1912" y2="881.5" stroke="#363a52"/>
<line x1="8" y1="904.5" x2="1912" y2="904.5" stroke="#363a52"/>
<line x1="960.5" y1="881" x2="960.5" y2="904" stroke="#363a52"/>
<text x="484" y="898" font-size="13" fill="#4a78d8" text-anchor="middle" font-family="Liberation Sans,Noto Sans CJK SC,sans-serif">信号点</text>
<text x="1436" y="898" font-size="13" fill="#a9acb9" text-anchor="middle" font-family="Liberation Sans,sans-serif">Cum Delta</text>
<g stroke="#363a52"><line x1="54.5" y1="905" x2="54.5" y2="908"/><line x1="194.5" y1="905" x2="194.5" y2="908"/><line x1="334.5" y1="905" x2="334.5" y2="908"/><line x1="474.5" y1="905" x2="474.5" y2="908"/><line x1="614.5" y1="905" x2="614.5" y2="908"/><line x1="754.5" y1="905" x2="754.5" y2="908"/><line x1="894.5" y1="905" x2="894.5" y2="908"/><line x1="1034.5" y1="905" x2="1034.5" y2="908"/><line x1="1174.5" y1="905" x2="1174.5" y2="908"/><line x1="1314.5" y1="905" x2="1314.5" y2="908"/><line x1="1454.5" y1="905" x2="1454.5" y2="908"/></g>
<g font-size="13" fill="#4e5367" text-anchor="middle" font-family="Liberation Sans,sans-serif">
<text x="49" y="919">02-21 22:25</text><text x="189" y="919">02-21 22:50</text><text x="331" y="919">09:15</text><text x="471" y="919">09:40</text><text x="611" y="919">10:05</text><text x="751" y="919">10:45</text><text x="891" y="919">11:10</text><text x="1031" y="919">13:35</text><text x="1171" y="919">14:00</text><text x="1311" y="919">14:25</text><text x="1451" y="919">14:50</text>
</g>
</svg>

<!-- footprint cell numbers -->
<div class="c" style="left:15px;top:449.4px"><i>0<br>136<br>268<br>66<br>148<br>469<br>232<br>688<br>342</i><i>86<br>526<br>108<br>670<br>295<br>296<br>426<br>536<br>0</i></div>
<div class="c" style="left:43px;top:495.08px"><i>0<br>262<br>486<br>1348<br>991<br>9</i><i>286<br>609<br>98<br>1006<br>162<br>0</i></div>
<div class="c" style="left:71px;top:495.08px"><i>58<br>488<br>325<br>214<br>489<br>1130<br>1135<br>298</i><i>262<br>516<br>81<br>469<br>606<br>792<br>288<br>0</i></div>
<div class="c" style="left:99px;top:506.5px"><i>12<br>444<br>135<br>309<br>296</i><i>129<br>498<br>426<br>286<br>0</i></div>
<div class="c" style="left:127px;top:506.5px"><i>0<br>298<br>390<br>152<br>312<br>442<br>586<br>652<br>882<br>662</i><i>298<br>128<br>31<br>86<br>61<br>607<br>29<br>626<br>296<br>0</i></div>
<div class="c" style="left:155px;top:552.18px"><i>0<br>166<br>1086<br>646<br>409<br>163</i><i>182<br>90<br>626<br>606<br>260<br>0</i></div>
<div class="c" style="left:183px;top:540.76px"><i>0<br>136<br>243<br>227<br>309<br>429<br>36</i><i>302<br>1168<br>470<br>486<br>466<br>126<br>0</i></div>
<div class="c" style="left:211px;top:517.92px"><i>0<br>624<br>282<br>462<br>246</i><i>626<br>526<br>468<br>327<br>0</i></div>
<div class="c" style="left:239px;top:506.5px"><i>0<br>127<br>963<br>606<br>336<br>376</i><i>86<br>966<br>766<br>600<br>496<br>0</i></div>
<div class="c" style="left:267px;top:517.92px"><i>0<br>14<br>306<br>268<br>632<br>269<br>312<br>1008<br>429<br>386<br>346<br>637<br>314<br>1007<br>288<br>1448<br>799<br>1052<br>334<br>446<br>88<br>296<br>402<br>208</i><i>0<br>626<br>406<br>398<br>296<br>706<br>106<br>207<br>296<br>229<br>496<br>162<br>402<br>682<br>496<br>626<br>606<br>620<br>98<br>168<br>296<br>402<br>126<br>0</i></div>
<div class="c" style="left:295px;top:495.08px"><i>0<br>86<br>696<br>242<br>67<br>2<br>663<br>862<br>626<br>262</i><i>148<br>106<br>468<br>166<br>2<br>360<br>626<br>296<br>402<br>0</i></div>
<div class="c" style="left:323px;top:517.92px"><i>0<br>262<br>224<br>346<br>78<br>179<br>241<br>112<br>161<br>122<br>162<br>406<br>636<br>382<br>467<br>191<br>148<br>296</i><i>229<br>139<br>408<br>182<br>179<br>31<br>26<br>62<br>31<br>30<br>408<br>468<br>627<br>402<br>408<br>28<br>6<br>0</i></div>
<div class="c" style="left:351px;top:609.28px"><i>0<br>298<br>449<br>366<br>194<br>96<br>41<br>113<br>262<br>432</i><i>626<br>666<br>396<br>502<br>222<br>126<br>98<br>386<br>406<br>0</i></div>
<div class="c" style="left:379px;top:529.34px"><i>0<br>96<br>406<br>436<br>137<br>446<br>626<br>261<br>46<br>206<br>56</i><i>86<br>106<br>608<br>396<br>306<br>606<br>296<br>626<br>362<br>96<br>0</i></div>
<div class="c" style="left:407px;top:346.62px"><i>6<br>626<br>1148<br>446<br>692<br>126<br>332<br>436<br>108<br>416<br>462<br>1166<br>626<br>334<br>632<br>606<br>209<br>1488<br>608<br>343</i><i>46<br>862<br>1066<br>202<br>208<br>626<br>986<br>98<br>48<br>406<br>662<br>1306<br>402<br>202<br>398<br>606<br>1098<br>486<br>202<br>0</i></div>
<div class="c" style="left:435px;top:278.1px"><i>66<br>296<br>606<br>288<br>668<br>1417<br>1366<br>1382<br>676<br>88</i><i>646<br>988<br>1826<br>407<br>966<br>1008<br>888<br>486<br>302<br>0</i></div>
<div class="c" style="left:463px;top:289.52px"><i>0<br>246<br>488<br>1088<br>1262<br>566<br>212</i><i>242<br>602<br>687<br>1262<br>1046<br>88<br>0</i></div>
<div class="c" style="left:491px;top:289.52px"><i>0<br>608<br>276<br>464<br>106<br>1148<br>696<br>607</i><i>406<br>628<br>248<br>466<br>402<br>606<br>47<br>0</i></div>
<div class="c" style="left:519px;top:312.36px"><i>0<br>96<br>426<br>496<br>1268<br>248</i><i>26<br>626<br>406<br>488<br>238<br>0</i></div>
<div class="c" style="left:547px;top:312.36px"><i>0<br>246<br>426<br>487<br>136<br>996<br>5</i><i>226<br>386<br>408<br>408<br>369<br>296<br>0</i></div>
<div class="c" style="left:575px;top:289.52px"><i>24<br>246<br>136<br>94<br>88<br>586<br>379<br>306</i><i>246<br>486<br>188<br>246<br>286<br>676<br>486<br>0</i></div>
<div class="c" style="left:603px;top:323.78px"><i>0<br>126<br>446<br>267<br>266<br>116<br>262<br>262<br>96</i><i>96<br>176<br>142<br>666<br>174<br>628<br>406<br>546<br>0</i></div>
<div class="c" style="left:631px;top:243.84px"><i>0<br>168<br>332<br>606<br>626<br>869<br>419<br>336<br>213<br>148</i><i>308<br>486<br>1426<br>1463<br>1268<br>287<br>266<br>466<br>416<br>0</i></div>
<div class="c" style="left:659px;top:323.78px"><i>0<br>326<br>1263<br>564<br>286<br>116</i><i>96<br>626<br>986<br>626<br>214<br>0</i></div>
<div class="c" style="left:687px;top:323.78px"><i>0<br>964<br>366<br>1263<br>666<br>2</i><i>46<br>266<br>686<br>36<br>71<br>0</i></div>
<div class="c" style="left:715px;top:358.04px"><i>0<br>26<br>262<br>886<br>266<br>88<br>2446<br>262<br>136</i><i>6<br>296<br>286<br>306<br>97<br>626<br>286<br>686<br>0</i></div>
<div class="c" style="left:743px;top:403.72px"><i>0<br>306<br>1062<br>466</i><i>426<br>426<br>466<br>0</i></div>
<div class="c" style="left:771px;top:346.62px"><i>46<br>229<br>227<br>132<br>1182<br>46<br>26</i><i>486<br>1136<br>296<br>486<br>281<br>2086<br>0</i></div>
<div class="c" style="left:799px;top:358.04px"><i>0<br>1037<br>244</i><i>1066<br>2267<br>0</i></div>
<div class="c" style="left:827px;top:289.52px"><i>0<br>368<br>98<br>1266<br>1268<br>146<br>2<br>266<br>46</i><i>362<br>2086<br>1268<br>886<br>296<br>1086<br>660<br>266<br>0</i></div>
<div class="c" style="left:855px;top:278.1px"><i>0<br>67<br>286<br>216<br>216<br>12</i><i>666<br>886<br>1266<br>306<br>606<br>0</i></div>
<div class="c" style="left:883px;top:278.1px"><i>0<br>244<br>667<br>132<br>164<br>202<br>1244<br>96</i><i>116<br>208<br>686<br>206<br>46<br>166<br>666<br>0</i></div>
<div class="c" style="left:911px;top:323.78px"><i>0<br>96<br>192<br>208</i><i>277<br>306<br>606<br>0</i></div>
<div class="c" style="left:939px;top:289.52px"><i>0<br>266<br>2086<br>0<br>161<br>21<br>382</i><i>78<br>246<br>426<br>1268<br>86<br>1066<br>0</i></div>
<div class="c" style="left:967px;top:289.52px"><i>0<br>362<br>1668<br>168<br>16<br>37</i><i>667<br>386<br>1086<br>0<br>26<br>0</i></div>
<div class="c" style="left:995px;top:323.78px"><i>0<br>146<br>276<br>2086<br>486<br>466<br>496<br>962</i><i>62<br>466<br>2066<br>486<br>296<br>1268<br>466<br>0</i></div>
<div class="c" style="left:1023px;top:278.1px"><i>0<br>221<br>462<br>1062<br>196<br>114<br>626<br>666<br>126<br>286<br>196</i><i>303<br>626<br>1266<br>296<br>126<br>266<br>126<br>296<br>202<br>26<br>0</i></div>
<div class="c" style="left:1051px;top:186.74px"><i>0<br>126<br>26<br>132<br>2186<br>362<br>299<br>864<br>906<br>224<br>126<br>112</i><i>306<br>1026<br>628<br>6242<br>1667<br>1226<br>428<br>1626<br>406<br>1096<br>267<br>0</i></div>
<div class="c" style="left:1079px;top:278.1px"><i>0<br>386<br>464<br>126<br>247<br>426<br>366<br>26<br>0</i><i>666<br>476<br>386<br>36<br>2826<br>206<br>2466<br>126<br>0</i></div>
<div class="c" style="left:1107px;top:335.2px"><i>0<br>1162<br>2466<br>2466<br>246<br>2</i><i>766<br>1286<br>2166<br>888<br>226<br>0</i></div>
<div class="c" style="left:1135px;top:312.36px"><i>0<br>384<br>282<br>1486<br>348<br>96</i><i>4066<br>296<br>2646<br>506<br>86<br>0</i></div>
<div class="c" style="left:1163px;top:289.52px"><i>0<br>166<br>266<br>76<br>2<br>126<br>426<br>1266<br>1</i><i>6<br>1866<br>1688<br>16<br>636<br>1786<br>1486<br>1466<br>0</i></div>
<div class="c" style="left:1191px;top:278.1px"><i>0<br>379<br>1662<br>2666<br>262<br>6</i><i>406<br>1066<br>1226<br>206<br>36<br>0</i></div>
<div class="c" style="left:1219px;top:243.84px"><i>0<br>86<br>686<br>296<br>316<br>216</i><i>887<br>346<br>1126<br>296<br>386<br>0</i></div>
<div class="c" style="left:1247px;top:266.68px"><i>0<br>111<br>266<br>186<br>146<br>112</i><i>266<br>1266<br>296<br>2466<br>66<br>0</i></div>
<div class="c" style="left:1275px;top:255.26px"><i>0<br>26<br>296<br>421<br>86<br>282<br>6</i><i>126<br>306<br>266<br>126<br>596<br>76<br>0</i></div>
<div class="c" style="left:1303px;top:243.84px"><i>0<br>166<br>1266<br>226<br>1266<br>126<br>16<br>112</i><i>1266<br>1266<br>76<br>466<br>266<br>1266<br>86<br>0</i></div>
<div class="c" style="left:1331px;top:300.94px"><i>0<br>126<br>1266<br>666<br>406</i><i>896<br>1266<br>1286<br>296<br>0</i></div>
<div class="c" style="left:1359px;top:300.94px"><i>0<br>266<br>426<br>196<br>66</i><i>126<br>466<br>2266<br>606<br>0</i></div>
<div class="c" style="left:1387px;top:323.78px"><i>0<br>76<br>111<br>626<br>186</i><i>296<br>1046<br>266<br>1126<br>0</i></div>
<div class="c" style="left:1415px;top:300.94px"><i>0<br>226<br>146<br>266</i><i>302<br>466<br>466<br>16</i></div>
<div class="c" style="left:1443px;top:289.52px"><i>0<br>167<br>336<br>662<br>166</i><i>6<br>206<br>226<br>626<br>0</i></div>
<div class="c" style="left:1471px;top:300.94px"><i>0<br>266<br>406<br>96</i><i>606<br>926<br>266<br>0</i></div>
<div class="c" style="left:1499px;top:278.1px"><i>0<br>246<br>1336<br>332<br>222<br>366<br>495</i><i>162<br>1926<br>1266<br>1066<br>366<br>562<br>0</i></div>
</div>
</body></html>
